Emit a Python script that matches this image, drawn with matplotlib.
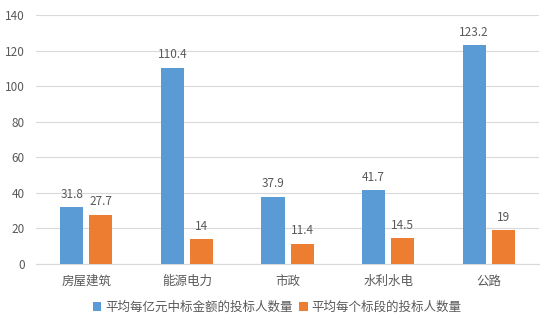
import numpy as np
import matplotlib
matplotlib.use('Agg')
import matplotlib.pyplot as plt

plt.rcParams['font.family'] = ['Noto Sans CJK SC', 'DejaVu Sans']

categories = ['房屋建筑', '能源电力', '市政', '水利水电', '公路']
per_billion = [31.8, 110.4, 37.9, 41.7, 123.2]
per_section = [27.7, 14, 11.4, 14.5, 19]
series_names = ['平均每亿元中标金额的投标人数量', '平均每个标段的投标人数量']

blue = '#5B9BD5'
orange = '#ED7D31'
txt = '#595959'

fig = plt.figure(figsize=(5.54, 3.27), dpi=100)
ax = fig.add_axes([0.065, 0.193, 0.908, 0.761])

x = np.arange(len(categories))
w = 0.23
gap = 0.06
b1 = ax.bar(x - (w + gap) / 2, per_billion, w, color=blue, label=series_names[0], zorder=3)
b2 = ax.bar(x + (w + gap) / 2, per_section, w, color=orange, label=series_names[1], zorder=3)

for bars, vals in ((b1, per_billion), (b2, per_section)):
    for r, v in zip(bars, vals):
        ax.text(r.get_x() + r.get_width() / 2, v + 3.5, f'{v:g}', ha='center', va='bottom',
                fontsize=8.5, color=txt)

ax.set_xlim(-0.5, len(categories) - 0.5)
ax.set_ylim(0, 140)
ax.set_yticks(range(0, 141, 20))
ax.set_xticks(x)
ax.set_xticklabels(categories, fontsize=9, color=txt)
ax.tick_params(axis='y', labelsize=8.5, colors=txt, length=0, pad=8)
ax.tick_params(axis='x', length=0, pad=8)
ax.grid(axis='y', color='#D9D9D9', linewidth=0.8, zorder=0)
for s in ['top', 'right', 'left']:
    ax.spines[s].set_visible(False)
ax.spines['bottom'].set_color('#D9D9D9')

leg = fig.legend(handles=[b1, b2], loc='center', bbox_to_anchor=(0.5, 0.06), ncol=2,
                 frameon=False, fontsize=9, handlelength=0.7, handleheight=0.7,
                 handletextpad=0.3, columnspacing=0.5)
for t in leg.get_texts():
    t.set_color(txt)

fig.savefig('out.png', dpi=100)
